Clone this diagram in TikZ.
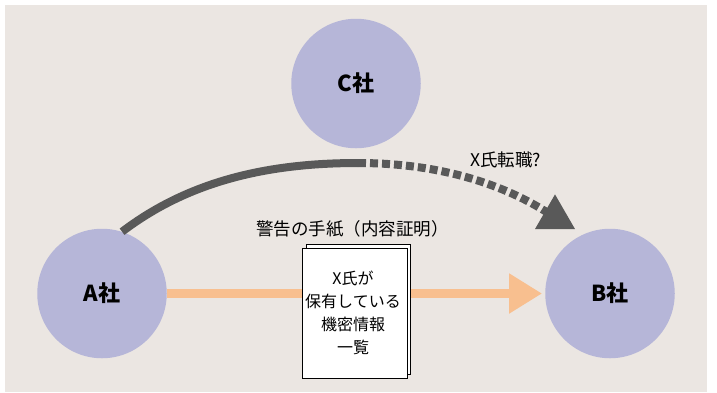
\documentclass[tikz,border=0pt]{standalone}
\usepackage{fontspec}
\setmainfont{Noto Sans CJK JP}
\usetikzlibrary{arrows.meta,shapes.geometric}
\definecolor{bgc}{HTML}{EBE6E2}
\definecolor{circc}{HTML}{B6B6D8}
\definecolor{grayl}{HTML}{595959}
\definecolor{orangel}{HTML}{F8BF8F}
\begin{document}
\begin{tikzpicture}[x=1pt,y=-1pt,
  company/.style={circle, fill=circc, minimum size=129.5pt, inner sep=0pt,
    font=\bfseries\fontsize{22}{26}\selectfont},
  page/.style={draw=black, line width=0.8pt, fill=white, minimum width=104.5pt,
    minimum height=130pt, inner sep=0pt},
  lbl/.style={font=\fontsize{17.5}{21}\selectfont, inner sep=0pt},
  doctext/.style={font=\fontsize{16}{23}\selectfont, align=center, inner sep=0pt},
  grayline/.style={draw=grayl, line width=8pt},
]
\useasboundingbox (0,0) rectangle (717,392);
\fill[white] (0,0) rectangle (717,392);
\fill[bgc] (5,5) rectangle (707,392);

\node[company] (C) at (356,83.5) {C社};
\node[company] (A) at (102,293.5) {A社};
\node[company] (B) at (610,293.5) {B社};

% orange arrow
\draw[draw=orangel, line width=9pt, -{Triangle[length=33pt,width=38pt]}, shorten >=3pt]
  (A.east) -- (B.west);

% gray curve
\coordinate (m) at (358,163);
\node[regular polygon, regular polygon sides=3, minimum size=46.2pt, inner sep=0pt] (tip) at (555,217.5) {};
\draw[grayline] (A.72) .. controls (190,180) and (270,163) .. (m);
\draw[grayline, dash pattern=on 8pt off 4pt] (m) .. controls (430,163) and (500,180) .. (tip.center);
\node[regular polygon, regular polygon sides=3, minimum size=46.2pt, inner sep=0pt, fill=grayl] at (tip.center) {};

\node[lbl, anchor=west] (xlabel) at (470,160) {X氏転職?};
\node[lbl] (warn) at (352.5,229) {警告の手紙（内容証明）};

% document
\node[page] (back) at (358.5,309.5) {};
\node[page] (front) at (355,313) {};
\node[doctext] (doctxt) at (353,313) {X氏が\\保有している\\機密情報\\一覧};
\end{tikzpicture}
\end{document}
